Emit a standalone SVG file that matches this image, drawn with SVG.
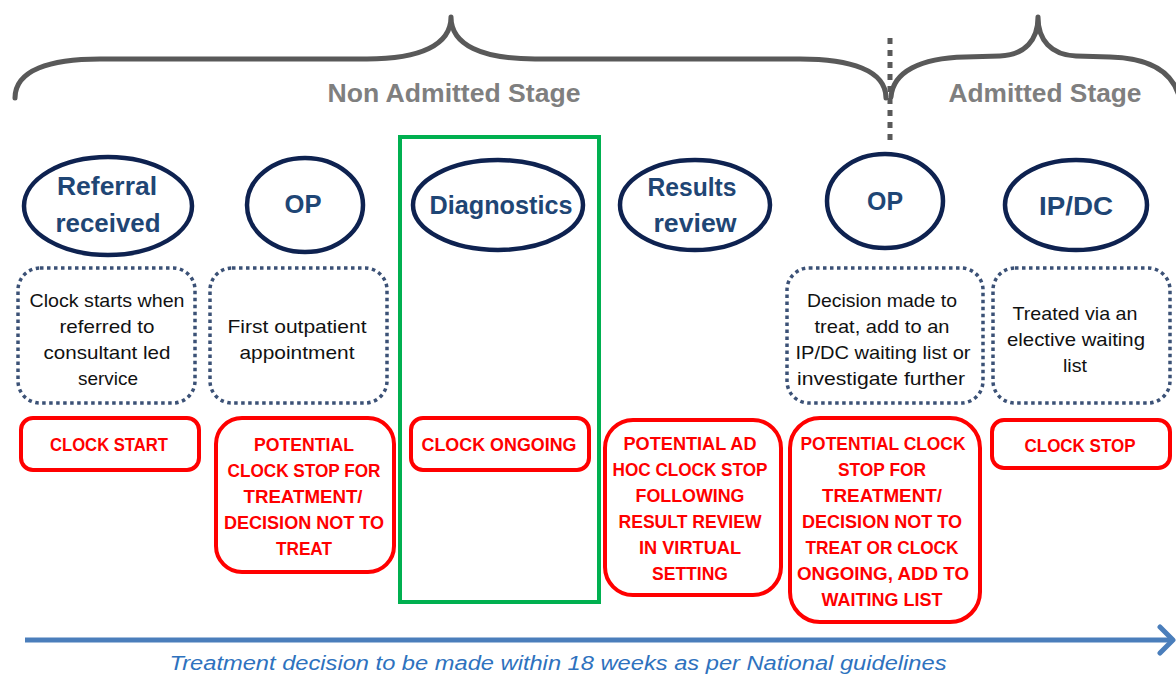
<svg xmlns="http://www.w3.org/2000/svg" width="1176" height="675" viewBox="0 0 1176 675">
<style>
.brace{fill:none;stroke:#595959;stroke-width:5;stroke-linecap:round;stroke-linejoin:round}
.stage{font-family:"Liberation Sans",Arial,sans-serif;font-weight:bold;font-size:26px;fill:#7F7F7F;text-anchor:middle}
.ell{fill:#fff;stroke:#0E2250;stroke-width:4.5}
.etxt{font-family:"Liberation Sans",Arial,sans-serif;font-weight:bold;font-size:25px;fill:#1F4675;text-anchor:middle}
.dot{fill:#fff;stroke:#3B5176;stroke-width:3.5;stroke-dasharray:3.5 3.5}
.btxt{font-family:"Liberation Sans",Arial,sans-serif;font-size:19px;fill:#111;text-anchor:middle}
.red{fill:#fff;stroke:#FF0000;stroke-width:4}
.rtxt{font-family:"Liberation Sans",Arial,sans-serif;font-weight:bold;font-size:19px;fill:#FF0000;text-anchor:middle}
.note{font-family:"Liberation Sans",Arial,sans-serif;font-style:italic;font-size:20px;fill:#2E72BE;text-anchor:middle}
</style>
<rect width="1176" height="675" fill="#fff"/>

<g id="stages">
  <path class="brace" d="M15,98 C15,70 50,59 100,59 L367,59 C420,59 451,45 451,17 C451,45 482,59 535,59 L800,59 C850,59 886,70 886,98"/>
  <path class="brace" d="M891,97 C893,72 920,58 965,57 L1000,56 C1025,55 1038,40 1038,17 C1038,40 1051,55 1076,56 L1110,57 C1150,58 1174,72 1180,100"/>
  <line x1="890" y1="38" x2="890" y2="140" stroke="#595959" stroke-width="5" stroke-dasharray="6 6"/>
  <text class="stage" x="454" y="102" textLength="253" lengthAdjust="spacingAndGlyphs">Non Admitted Stage</text>
  <text class="stage" x="1045" y="102" textLength="193" lengthAdjust="spacingAndGlyphs">Admitted Stage</text>
</g>

<g id="diagnostics-frame">
  <rect x="400" y="137" width="199" height="465" fill="none" stroke="#00B050" stroke-width="4"/>
</g>

<g id="node-referral">
  <ellipse class="ell" cx="108" cy="206" rx="84" ry="49"/>
  <text class="etxt" x="107" y="195" textLength="100" lengthAdjust="spacingAndGlyphs">Referral</text>
  <text class="etxt" x="108" y="232" textLength="105" lengthAdjust="spacingAndGlyphs">received</text>
  <rect class="dot" x="18" y="268" width="177" height="135" rx="22"/>
  <text class="btxt" x="107" y="307" textLength="155" lengthAdjust="spacingAndGlyphs">Clock starts when</text>
  <text class="btxt" x="107" y="333" textLength="95" lengthAdjust="spacingAndGlyphs">referred to</text>
  <text class="btxt" x="107" y="359" textLength="127" lengthAdjust="spacingAndGlyphs">consultant led</text>
  <text class="btxt" x="108" y="385" textLength="60" lengthAdjust="spacingAndGlyphs">service</text>
  <rect class="red" x="21" y="418" width="178" height="52" rx="12"/>
  <text class="rtxt" x="109" y="451" textLength="118" lengthAdjust="spacingAndGlyphs">CLOCK START</text>
</g>

<g id="node-op1">
  <ellipse class="ell" cx="305" cy="205" rx="58" ry="47"/>
  <text class="etxt" x="303" y="213" textLength="37" lengthAdjust="spacingAndGlyphs">OP</text>
  <rect class="dot" x="210" y="268" width="177" height="135" rx="22"/>
  <text class="btxt" x="297" y="333" textLength="139" lengthAdjust="spacingAndGlyphs">First outpatient</text>
  <text class="btxt" x="297" y="359" textLength="115" lengthAdjust="spacingAndGlyphs">appointment</text>
  <rect class="red" x="216" y="418" width="178" height="154" rx="26"/>
  <text class="rtxt" x="304" y="451" textLength="100" lengthAdjust="spacingAndGlyphs">POTENTIAL</text>
  <text class="rtxt" x="304" y="477" textLength="153" lengthAdjust="spacingAndGlyphs">CLOCK STOP FOR</text>
  <text class="rtxt" x="303" y="503" textLength="119" lengthAdjust="spacingAndGlyphs">TREATMENT/</text>
  <text class="rtxt" x="304" y="529" textLength="160" lengthAdjust="spacingAndGlyphs">DECISION NOT TO</text>
  <text class="rtxt" x="304" y="555" textLength="56" lengthAdjust="spacingAndGlyphs">TREAT</text>
</g>

<g id="node-diagnostics">
  <ellipse class="ell" cx="498" cy="205" rx="85" ry="45"/>
  <text class="etxt" x="501" y="214" textLength="143" lengthAdjust="spacingAndGlyphs">Diagnostics</text>
  <rect class="red" x="411" y="418" width="178" height="52" rx="12"/>
  <text class="rtxt" x="499" y="451" textLength="155" lengthAdjust="spacingAndGlyphs">CLOCK ONGOING</text>
</g>

<g id="node-results">
  <ellipse class="ell" cx="695" cy="205" rx="75" ry="45"/>
  <text class="etxt" x="692" y="196" textLength="89" lengthAdjust="spacingAndGlyphs">Results</text>
  <text class="etxt" x="695" y="232" textLength="83" lengthAdjust="spacingAndGlyphs">review</text>
  <rect class="red" x="605" y="420" width="176" height="175" rx="28"/>
  <text class="rtxt" x="690" y="450" textLength="133" lengthAdjust="spacingAndGlyphs">POTENTIAL AD</text>
  <text class="rtxt" x="690" y="476" textLength="155" lengthAdjust="spacingAndGlyphs">HOC CLOCK STOP</text>
  <text class="rtxt" x="690" y="502" textLength="109" lengthAdjust="spacingAndGlyphs">FOLLOWING</text>
  <text class="rtxt" x="690" y="528" textLength="143" lengthAdjust="spacingAndGlyphs">RESULT REVIEW</text>
  <text class="rtxt" x="690" y="554" textLength="102" lengthAdjust="spacingAndGlyphs">IN VIRTUAL</text>
  <text class="rtxt" x="690" y="580" textLength="76" lengthAdjust="spacingAndGlyphs">SETTING</text>
</g>

<g id="node-op2">
  <ellipse class="ell" cx="885" cy="201" rx="58" ry="47"/>
  <text class="etxt" x="885" y="210" textLength="36" lengthAdjust="spacingAndGlyphs">OP</text>
  <rect class="dot" x="787" y="268" width="196" height="135" rx="22"/>
  <text class="btxt" x="882" y="307" textLength="150" lengthAdjust="spacingAndGlyphs">Decision made to</text>
  <text class="btxt" x="882" y="333" textLength="135" lengthAdjust="spacingAndGlyphs">treat, add to an</text>
  <text class="btxt" x="883" y="359" textLength="175" lengthAdjust="spacingAndGlyphs">IP/DC waiting list or</text>
  <text class="btxt" x="881" y="385" textLength="168" lengthAdjust="spacingAndGlyphs">investigate further</text>
  <rect class="red" x="790" y="418" width="190" height="204" rx="30"/>
  <text class="rtxt" x="883" y="450" textLength="165" lengthAdjust="spacingAndGlyphs">POTENTIAL CLOCK</text>
  <text class="rtxt" x="882" y="476" textLength="88" lengthAdjust="spacingAndGlyphs">STOP FOR</text>
  <text class="rtxt" x="882" y="502" textLength="120" lengthAdjust="spacingAndGlyphs">TREATMENT/</text>
  <text class="rtxt" x="882" y="528" textLength="160" lengthAdjust="spacingAndGlyphs">DECISION NOT TO</text>
  <text class="rtxt" x="882" y="554" textLength="153" lengthAdjust="spacingAndGlyphs">TREAT OR CLOCK</text>
  <text class="rtxt" x="883" y="580" textLength="172" lengthAdjust="spacingAndGlyphs">ONGOING, ADD TO</text>
  <text class="rtxt" x="882" y="606" textLength="121" lengthAdjust="spacingAndGlyphs">WAITING LIST</text>
</g>

<g id="node-ipdc">
  <ellipse class="ell" cx="1076" cy="205" rx="71" ry="45"/>
  <text class="etxt" x="1076" y="215" textLength="74" lengthAdjust="spacingAndGlyphs">IP/DC</text>
  <rect class="dot" x="993" y="268" width="177" height="135" rx="22"/>
  <text class="btxt" x="1075" y="320" textLength="125" lengthAdjust="spacingAndGlyphs">Treated via an</text>
  <text class="btxt" x="1076" y="346" textLength="138" lengthAdjust="spacingAndGlyphs">elective waiting</text>
  <text class="btxt" x="1075" y="372" textLength="24" lengthAdjust="spacingAndGlyphs">list</text>
  <rect class="red" x="992" y="420" width="178" height="48" rx="12"/>
  <text class="rtxt" x="1080" y="452" textLength="111" lengthAdjust="spacingAndGlyphs">CLOCK STOP</text>
</g>

<g id="connectors">
  <line x1="25" y1="640" x2="1171" y2="640" stroke="#4A7EBB" stroke-width="5"/>
  <polyline points="1160,627 1173,640 1160,653" fill="none" stroke="#4A7EBB" stroke-width="5" stroke-linecap="round" stroke-linejoin="round"/>
</g>

<g id="timeline-note">
  <text class="note" x="558" y="670" textLength="777" lengthAdjust="spacingAndGlyphs">Treatment decision to be made within 18 weeks as per National guidelines</text>
</g>
</svg>
